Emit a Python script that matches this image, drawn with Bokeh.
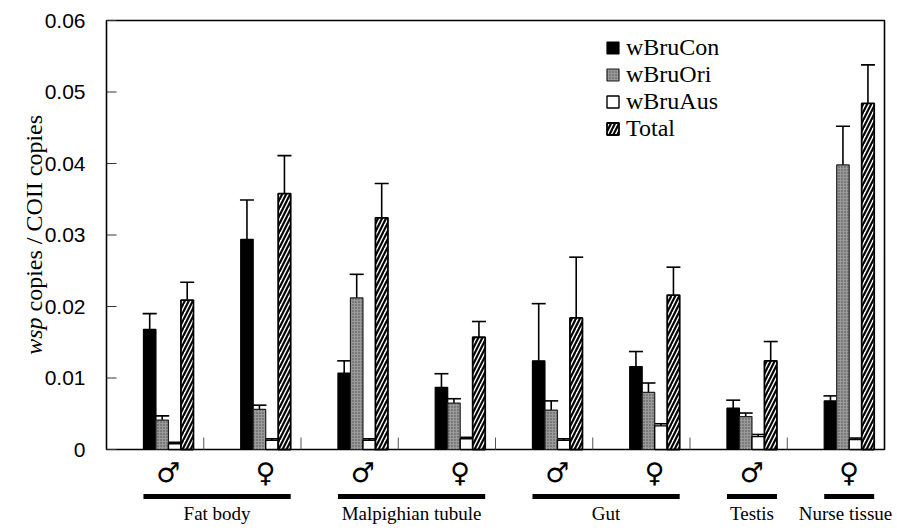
import math
from bokeh.plotting import figure
from bokeh.models import (Range1d, ColumnDataSource, Whisker, TeeHead, Legend, LegendItem)
from bokeh.core.properties import value
from bokeh.embed import file_html
from bokeh.resources import INLINE

# ---------------- data ----------------
sexes = ["♂", "♀", "♂", "♀", "♂", "♀", "♂", "♀"]
tissues = ["Fat body", "Malpighian tubule", "Gut", "Testis", "Nurse tissue"]
tissue_first_group = [0, 2, 4, 6, 7]
tissue_last_group = [1, 3, 5, 6, 7]

series_names = ["wBruCon", "wBruOri", "wBruAus", "Total"]
wBruCon = [0.0168, 0.0294, 0.0107, 0.0087, 0.0124, 0.0116, 0.0058, 0.0068]
wBruCon_upper = [0.0190, 0.0349, 0.0124, 0.0106, 0.0204, 0.0137, 0.0069, 0.0075]
wBruOri = [0.0041, 0.0056, 0.0212, 0.0065, 0.0055, 0.0080, 0.0046, 0.0398]
wBruOri_upper = [0.0047, 0.0062, 0.0245, 0.0071, 0.0068, 0.0093, 0.0051, 0.0452]
wBruAus = [0.0008, 0.0013, 0.0013, 0.0015, 0.0013, 0.0033, 0.0018, 0.0014]
wBruAus_upper = [0.0010, 0.0015, 0.0015, 0.0017, 0.0015, 0.0036, 0.0021, 0.0016]
Total = [0.0209, 0.0358, 0.0324, 0.0157, 0.0184, 0.0216, 0.0124, 0.0484]
Total_upper = [0.0234, 0.0411, 0.0372, 0.0179, 0.0269, 0.0255, 0.0151, 0.0538]

y_ticks = [0, 0.01, 0.02, 0.03, 0.04, 0.05, 0.06]
y_tick_labels = ["0", "0.01", "0.02", "0.03", "0.04", "0.05", "0.06"]

# ---------------- layout ----------------
W, H = 897, 530
FRAME_LEFT = 106       # canvas px of x = 0
FRAME_TOP = 20         # canvas px of y = YMAX
FRAME_BOTTOM = 449     # canvas px of y = 0
N = len(sexes)
YMAX = 0.06
PX_X = 97.25           # px per group
PX_Y = (FRAME_BOTTOM - FRAME_TOP) / YMAX
X0 = -FRAME_LEFT / PX_X
X1 = (W - FRAME_LEFT) / PX_X
Y1 = YMAX + FRAME_TOP / PX_Y
Y0 = -(H - FRAME_BOTTOM) / PX_Y

def py(px):  # vertical pixel distance -> data units
    return px / PX_Y

def px_(px):  # horizontal pixel distance -> data units
    return px / PX_X

BAR_START = 0.38
BW = 0.1285

p = figure(width=W, height=H, x_range=Range1d(X0, X1), y_range=Range1d(Y0, Y1),
           output_backend="svg", toolbar_location=None,
           x_axis_location=None, y_axis_location=None,
           min_border_left=0, min_border_right=0, min_border_top=0, min_border_bottom=0)
p.xgrid.visible = False
p.ygrid.visible = False
p.outline_line_color = None
p.background_fill_color = "white"
p.border_fill_color = "white"

# plot box
p.quad(left=[0], right=[N], bottom=[0], top=[YMAX], fill_color=None,
       line_color="black", line_width=1.6)

# y ticks (inward) and tick labels
nt = len(y_ticks)
p.segment(x0=[0] * nt, y0=y_ticks, x1=[px_(10)] * nt, y1=y_ticks,
          line_color="#333333", line_width=1)
p.text(x=[-px_(21)] * nt, y=y_ticks, text=y_tick_labels,
       text_font=value("Liberation Sans"), text_font_size="21px",
       text_align="right", text_baseline="middle", text_color="black")

# group separator ticks
bounds = list(range(1, N))
p.segment(x0=bounds, y0=[0] * len(bounds), x1=bounds, y1=[py(12)] * len(bounds),
          line_color="#555555", line_width=1)

series_vals = [wBruCon, wBruOri, wBruAus, Total]
series_upper = [wBruCon_upper, wBruOri_upper, wBruAus_upper, Total_upper]
styles = [
    dict(fill_color="black", line_color="black", line_width=1.2),
    dict(fill_color="#9a9a9a", line_color="#222222", line_width=1.2,
         hatch_pattern="dot", hatch_color="#4a4a4a", hatch_scale=3, hatch_weight=1),
    dict(fill_color="white", line_color="black", line_width=1.4),
    dict(fill_color="white", line_color="black", line_width=1.8,
         hatch_pattern="right_diagonal_line", hatch_color="black", hatch_scale=8, hatch_weight=2.2),
]

legend_items = []
for k, (name, vals, ups, st) in enumerate(zip(series_names, series_vals, series_upper, styles)):
    xs = [g + BAR_START + BW * (k + 0.5) for g in range(N)]
    src = ColumnDataSource(dict(x=xs, top=vals, upper=ups))
    r = p.vbar(x="x", top="top", width=BW, source=src, **st)
    legend_items.append(LegendItem(label=name, renderers=[r]))
    w = Whisker(source=src, base="x", upper="upper", lower="top",
                upper_head=TeeHead(size=14, line_width=1.6, line_color="black"),
                lower_head=None, line_width=1.6, line_color="black")
    p.add_layout(w)

legend = Legend(items=legend_items, location=(605, 388), orientation="vertical",
                glyph_width=15, glyph_height=15, label_height=26, spacing=0,
                padding=0, margin=0, label_standoff=6,
                label_text_font="Liberation Serif", label_text_font_size="24px",
                label_text_color="black",
                border_line_color=None, background_fill_alpha=0)
p.add_layout(legend)

# sex symbols
centers = [g + BAR_START + 2 * BW for g in range(N)]
p.text(x=centers, y=[-py(23)] * N, text=sexes, text_font=value("DejaVu Sans"),
       text_font_size="27px", text_align="center", text_baseline="middle", text_color="black")

# tissue underlines and labels
ul_x0 = [f + BAR_START for f in tissue_first_group]
ul_x1 = [l + BAR_START + 4 * BW for l in tissue_last_group]
p.segment(x0=ul_x0, y0=[-py(47)] * len(tissues), x1=ul_x1, y1=[-py(47)] * len(tissues),
          line_color="black", line_width=5, line_cap="butt")
lab_x = [(a + b) / 2 for a, b in zip(ul_x0, ul_x1)]
lab_x[-1] = min(lab_x[-1], X1 - px_(52))
p.text(x=lab_x, y=[-py(64)] * len(tissues), text=tissues,
       text_font=value("Liberation Serif"), text_font_size="19px",
       text_align="center", text_baseline="alphabetic", text_color="black")

# y-axis title (italic "wsp")
lab_xd = -px_(FRAME_LEFT - 33)
split_y = py(FRAME_BOTTOM - 314)
p.text(x=[lab_xd], y=[split_y - py(3)], text=["wsp"], angle=math.pi / 2,
       text_align="right", text_baseline="alphabetic",
       text_font=value("Liberation Serif"), text_font_style="italic",
       text_font_size="24px", text_color="black")
p.text(x=[lab_xd], y=[split_y + py(3)], text=["copies / COII copies"], angle=math.pi / 2,
       text_align="left", text_baseline="alphabetic",
       text_font=value("Liberation Serif"), text_font_size="24px", text_color="black")

open("out.html", "w").write(file_html(p, INLINE))
